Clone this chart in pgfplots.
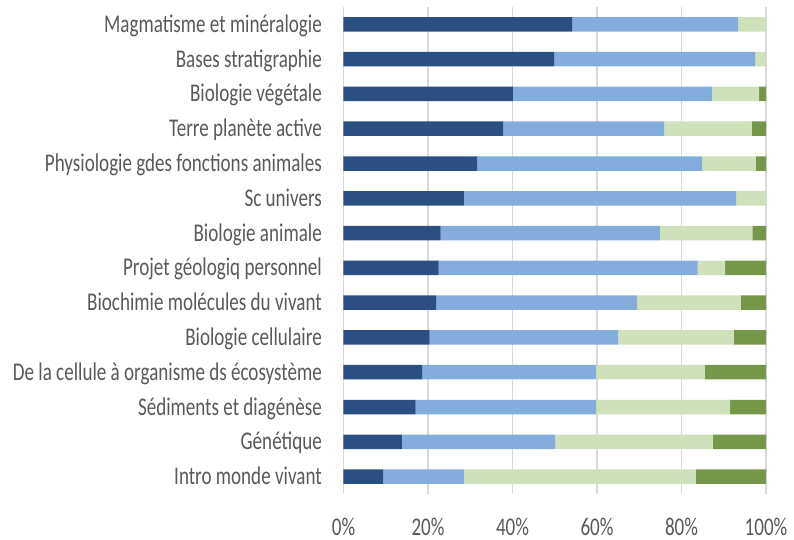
\documentclass[border=0pt]{standalone}
\usepackage{fontspec}
\setmainfont{Carlito}[FakeStretch=0.748]
\usepackage{pgfplots}
\pgfplotsset{compat=1.18}
\definecolor{cA}{HTML}{2C4F83}
\definecolor{cB}{HTML}{84ADDD}
\definecolor{cC}{HTML}{CFE1BB}
\definecolor{cD}{HTML}{76964A}
\definecolor{gridgray}{HTML}{D9D9D9}
\definecolor{labgray}{HTML}{595959}
\begin{document}
\begin{tikzpicture}
\useasboundingbox (-343.5pt,-46pt) rectangle (450.5pt,494pt);
\begin{axis}[
 at={(0,0)}, anchor=south west, scale only axis, width=422.5pt, height=487pt,
 xbar stacked, bar width=14.5pt,
 xmin=0, xmax=100, ymin=-0.5, ymax=13.5,
 xtick={0,20,40,60,80,100}, xticklabels={0\%,20\%,40\%,60\%,80\%,100\%},
 ytick={0,...,13},
 yticklabels={Intro monde vivant, Génétique, Sédiments et diagénèse, De la cellule à organisme ds écosystème, Biologie cellulaire, Biochimie molécules du vivant, Projet géologiq personnel, Biologie animale, Sc univers, Physiologie gdes fonctions animales, Terre planète active, Biologie végétale, Bases stratigraphie, Magmatisme et minéralogie},
 xmajorgrids, grid style={draw=gridgray, line width=1.2pt},
 axis line style={draw=none}, major tick length=0pt,
 tick label style={font=\fontsize{25.5}{30}\selectfont, text=labgray},
 xticklabel style={anchor=base, yshift=-41pt, inner sep=0pt},
 yticklabel style={anchor=base east, xshift=-21.5pt, yshift=-8pt, inner sep=0pt},
 every axis plot/.append style={draw=none},
]
\addplot[fill=cA] coordinates {(9.4,0) (13.8,1) (17.1,2) (18.6,3) (20.4,4) (21.9,5) (22.5,6) (23.0,7) (28.5,8) (31.6,9) (37.8,10) (40.1,11) (49.9,12) (54.1,13)};
\addplot[fill=cB] coordinates {(19.1,0) (36.3,1) (42.7,2) (41.2,3) (44.6,4) (47.6,5) (61.3,6) (51.9,7) (64.4,8) (53.3,9) (38.1,10) (47.1,11) (47.5,12) (39.3,13)};
\addplot[fill=cC] coordinates {(54.9,0) (37.3,1) (31.7,2) (25.7,3) (27.4,4) (24.5,5) (6.5,6) (21.9,7) (7.1,8) (12.7,9) (20.7,10) (11.2,11) (2.6,12) (6.6,13)};
\addplot[fill=cD] coordinates {(16.6,0) (12.6,1) (8.5,2) (14.5,3) (7.6,4) (6.0,5) (9.7,6) (3.2,7) (0,8) (2.4,9) (3.4,10) (1.6,11) (0,12) (0,13)};
\end{axis}
\end{tikzpicture}
\end{document}
